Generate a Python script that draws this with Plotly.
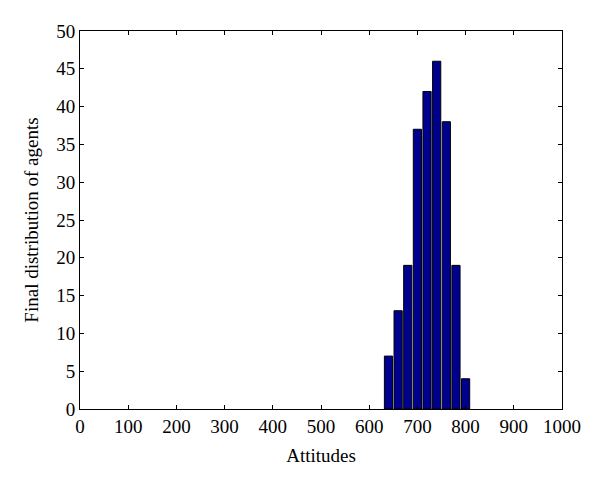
import plotly.graph_objects as go

attitudes = [640, 660, 680, 700, 720, 740, 760, 780, 800]
counts = [7, 13, 19, 37, 42, 46, 38, 19, 4]
x_ticks = [0, 100, 200, 300, 400, 500, 600, 700, 800, 900, 1000]
y_ticks = [0, 5, 10, 15, 20, 25, 30, 35, 40, 45, 50]

fig = go.Figure()
fig.add_trace(go.Bar(
    x=attitudes, y=counts, width=17,
    marker=dict(color="#00008F", line=dict(color="black", width=1)),
))

axis_common = dict(
    showgrid=False, zeroline=False, showline=True, linecolor="black", linewidth=1,
    mirror="ticks", ticks="inside", ticklen=4, tickcolor="black", automargin=False,
    tickfont=dict(family="Liberation Serif", size=19, color="black"),
)
fig.update_xaxes(range=[0, 1000], tickvals=x_ticks,
                 title=dict(text="Attitudes", font=dict(family="Liberation Serif", size=19, color="black"), standoff=12),
                 **axis_common)
fig.update_yaxes(range=[0, 50], tickvals=y_ticks,
                 title=dict(text="Final distribution of agents", font=dict(family="Liberation Serif", size=19, color="black"), standoff=12),
                 **axis_common)
fig.update_layout(
    width=600, height=488,
    margin=dict(l=72, r=46, t=23, b=87),
    plot_bgcolor="white", paper_bgcolor="white",
    showlegend=False,
)
fig.write_html("out.html")
